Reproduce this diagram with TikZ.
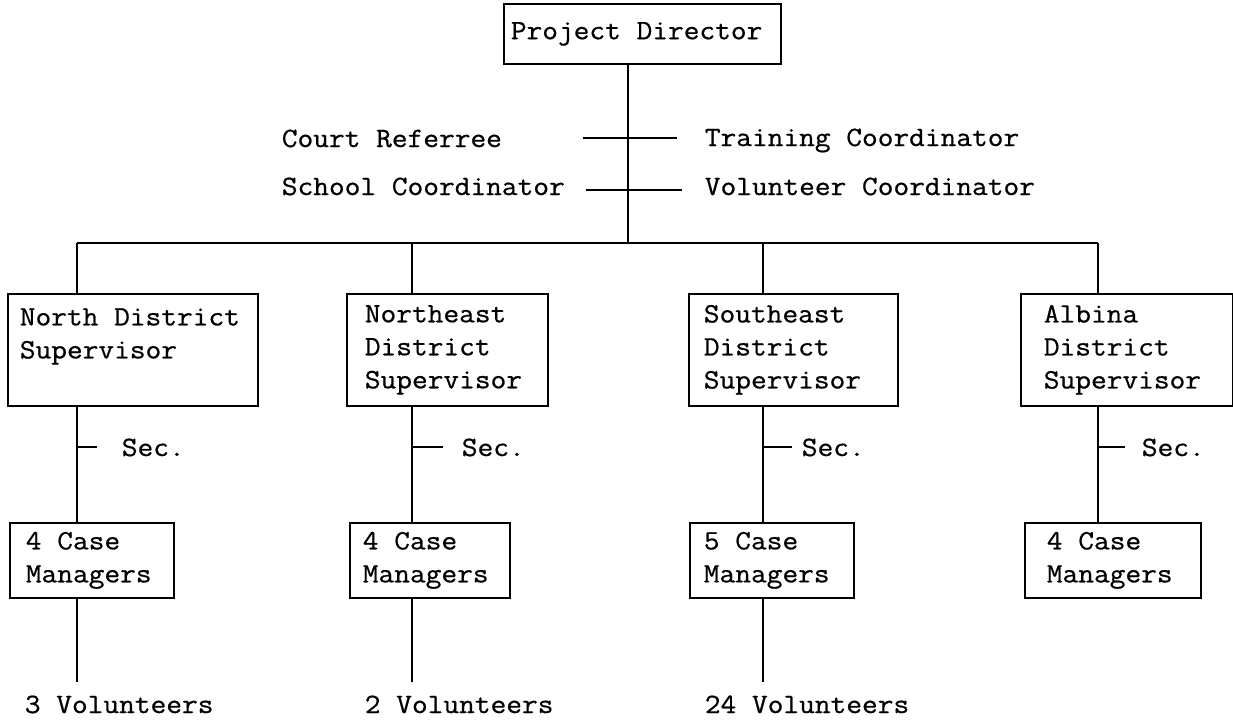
\documentclass[tikz,border=0pt]{standalone}
\usepackage{fontspec}
\newfontfamily\typewriter[FakeStretch=1.09, FakeBold=0.7]{Latin Modern Mono}
\begin{document}
\begin{tikzpicture}[x=1pt, y=-1pt, line width=1.7pt,
  every node/.style={font=\typewriter\fontsize{28}{33}\selectfont, inner sep=0pt},
  box/.style={draw, anchor=north west, align=flush left},
  district/.style={box, minimum height=112pt},
  casebox/.style={box, minimum height=75pt},
  txt/.style={anchor=base west}]

% page
\fill[white] (0,0) rectangle (1233,723);
\useasboundingbox (0,0) rectangle (1233,723);

% top of the chart
\node[box, minimum width=277pt, minimum height=60pt, text width=263pt] (pd) at (503,3) {Project Director};

% staff attached to the director
\node[txt] (cr) at (281,147) {Court Referree};
\node[txt] (sc) at (281,195) {School Coordinator};
\node[txt] (tc) at (704,146) {Training Coordinator};
\node[txt] (vc) at (704,195) {Volunteer Coordinator};

% district supervisors
\node[district, minimum width=250pt, text width=226pt] (nd) at (7,293) {North District\\Supervisor\\~};
\node[district, minimum width=201pt, text width=165pt] (ne) at (346,293) {Northeast\\District\\Supervisor};
\node[district, minimum width=209pt, text width=179pt] (se) at (688,293) {Southeast\\District\\Supervisor};
\node[district, minimum width=212pt, text width=166pt] (al) at (1020,293) {Albina\\District\\Supervisor};

% secretaries
\node[txt] (s1) at (121,456) {Sec.};
\node[txt] (s2) at (461,456) {Sec.};
\node[txt] (s3) at (801,456) {Sec.};
\node[txt] (s4) at (1141,456) {Sec.};

% case managers
\node[casebox, minimum width=164pt, text width=132pt] (c1) at (9,522) {4 Case\\Managers};
\node[casebox, minimum width=160pt, text width=134pt] (c2) at (349,522) {4 Case\\Managers};
\node[casebox, minimum width=164pt, text width=136pt] (c3) at (689,522) {5 Case\\Managers};
\node[casebox, minimum width=176pt, text width=132pt] (c4) at (1024,522) {4 Case\\Managers};

% volunteers
\node[txt] (v1) at (24,713) {3 Volunteers};
\node[txt] (v2) at (364,713) {2 Volunteers};
\node[txt] (v3) at (704,713) {24 Volunteers};

% junction points
\coordinate (j) at (628,243);
\coordinate (b1) at (77,243);
\coordinate (b2) at (412,243);
\coordinate (b3) at (763,243);
\coordinate (b4) at (1098,243);
\coordinate (crl) at (583,138);
\coordinate (tcl) at (677,138);
\coordinate (scl) at (586,190);
\coordinate (vcl) at (682,190);

% trunk, staff ticks and the district bar
\draw (pd.south -| j) -- (j);
\draw (crl) -- (tcl);
\draw (scl) -- (vcl);
\draw (b1) -- (b4);

% drops to the district boxes
\draw (b1) -- (b1 |- nd.north);
\draw (b2) -- (b2 |- ne.north);
\draw (b3) -- (b3 |- se.north);
\draw (b4) -- (b4 |- al.north);

% district boxes down to case managers
\draw (b1 |- nd.south) -- (b1 |- c1.north);
\draw (b2 |- ne.south) -- (b2 |- c2.north);
\draw (b3 |- se.south) -- (b3 |- c3.north);
\draw (b4 |- al.south) -- (b4 |- c4.north);

% secretary ticks
\draw (b1 |- 0,447) -- ++(20,0);
\draw (b2 |- 0,447) -- ++(31,0);
\draw (b3 |- 0,447) -- ++(29,0);
\draw (b4 |- 0,447) -- ++(27,0);

% case managers down to volunteers
\draw (b1 |- c1.south) -- (b1 |- 0,682);
\draw (b2 |- c2.south) -- (b2 |- 0,682);
\draw (b3 |- c3.south) -- (b3 |- 0,682);
\end{tikzpicture}
\end{document}
